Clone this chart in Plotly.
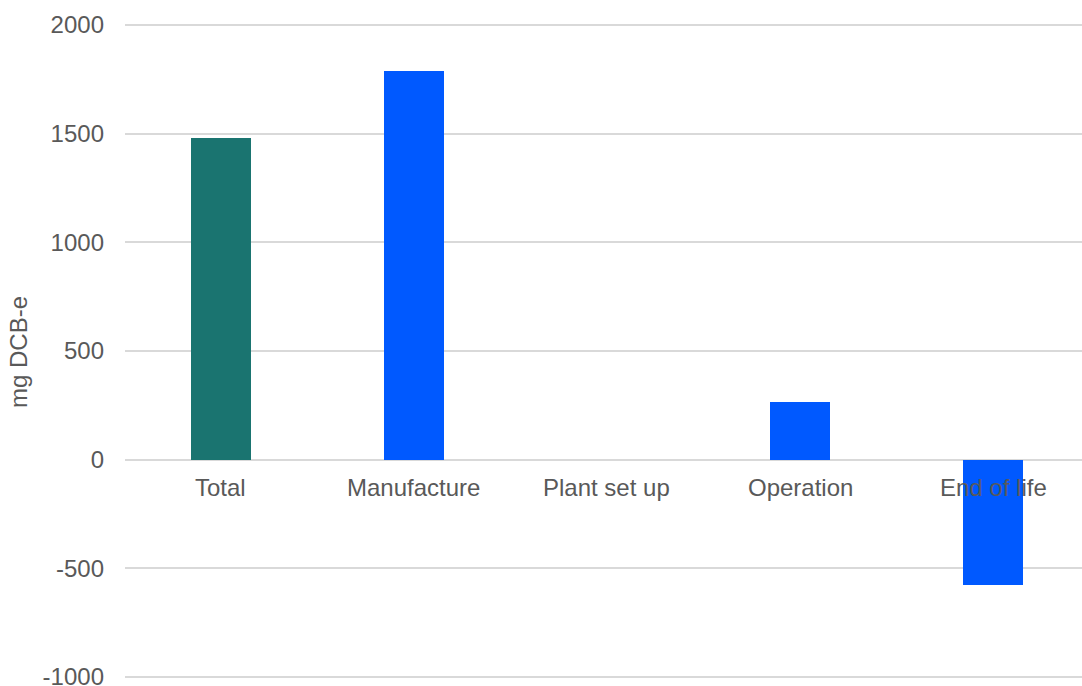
import plotly.graph_objects as go

# Life-cycle stages and their impact (mg DCB-e)
categories = ["Total", "Manufacture", "Plant set up", "Operation", "End of life"]
values = [1481, 1789, 0, 265, -575]
bar_colors = ["#1A7470", "#0059FF", "#0059FF", "#0059FF", "#0059FF"]

y_ticks = [-1000, -500, 0, 500, 1000, 1500, 2000]

text_color = "#595959"
grid_color = "#D9D9D9"
font_family = "Liberation Sans, Arial, sans-serif"

fig = go.Figure()
fig.add_trace(go.Bar(
    x=categories,
    y=values,
    marker=dict(color=bar_colors, line=dict(width=0)),
    width=0.315,
    showlegend=False,
))

# Category labels sit just under the zero line, drawn above the bars
for cat in categories:
    fig.add_annotation(
        x=cat, y=0, xref="x", yref="y",
        text=cat, showarrow=False,
        yanchor="top", yshift=-12,
        font=dict(size=24, color=text_color, family=font_family),
    )

fig.update_layout(
    width=1082, height=686,
    margin=dict(l=125, r=0, t=22, b=4),
    plot_bgcolor="white",
    paper_bgcolor="white",
    font=dict(family=font_family, color=text_color, size=24),
    bargap=0,
)
fig.update_xaxes(
    type="category",
    range=[-0.497, 4.461],
    showticklabels=False,
    showgrid=False,
    zeroline=False,
    showline=False,
    ticks="",
    automargin=False,
)
fig.update_yaxes(
    range=[-1023, 2013.8],
    tickvals=y_ticks,
    ticktext=[str(v) for v in y_ticks],
    tickfont=dict(size=24, color=text_color),
    ticklabelstandoff=20,
    ticklabeloverflow="allow",
    automargin=False,
    showgrid=True,
    gridcolor=grid_color,
    gridwidth=1.5,
    zeroline=True,
    zerolinecolor=grid_color,
    zerolinewidth=1.5,
    showline=False,
    title=dict(text="mg DCB-e", font=dict(size=24, color=text_color), standoff=8),
)

fig.write_html("out.html")
